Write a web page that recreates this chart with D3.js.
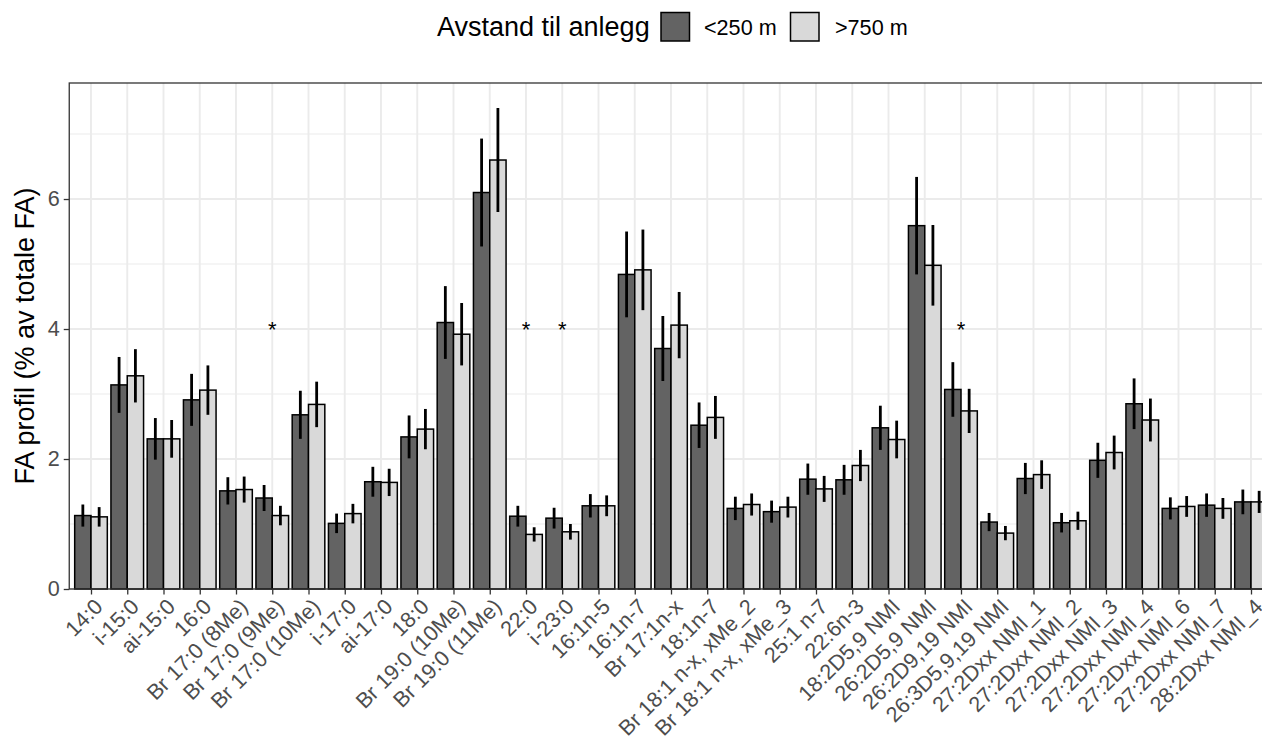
<!DOCTYPE html>
<html>
<head>
<meta charset="utf-8">
<script src="https://cdn.jsdelivr.net/npm/d3@7"></script>
<style>
  html, body { margin: 0; padding: 0; background: #ffffff; }
  svg { display: block; font-family: "Liberation Sans", Arial, sans-serif; }
</style>
</head>
<body>
<svg id="chart" width="1262" height="738"></svg>
<script>
// Fatty-acid profile by distance to facility: group means with error bars
const categories = [
  "14:0", "i-15:0", "ai-15:0", "16:0", "Br 17:0 (8Me)", "Br 17:0 (9Me)",
  "Br 17:0 (10Me)", "i-17:0", "ai-17:0", "18:0", "Br 19:0 (10Me)", "Br 19:0 (11Me)",
  "22:0", "i-23:0", "16:1n-5", "16:1n-7", "Br 17:1n-x", "18:1n-7",
  "Br 18:1 n-x, xMe_2", "Br 18:1 n-x, xMe_3", "25:1 n-7", "22:6n-3",
  "18:2D5,9 NMI", "26:2D5,9 NMI", "26:2D9,19 NMI", "26:3D5,9,19 NMI",
  "27:2Dxx NMI_1", "27:2Dxx NMI_2", "27:2Dxx NMI_3", "27:2Dxx NMI_4",
  "27:2Dxx NMI_6", "27:2Dxx NMI_7", "28:2Dxx NMI_4"
];

const groups = ["<250 m", ">750 m"];

// Mean share (% of total FA), distance < 250 m
const nearMean = [
  1.13, 3.14, 2.31, 2.91, 1.51, 1.40, 2.68, 1.01, 1.65, 2.34, 4.10, 6.10,
  1.12, 1.09, 1.28, 4.84, 3.70, 2.52, 1.24, 1.19, 1.69, 1.68,
  2.48, 5.59, 3.07, 1.03, 1.70, 1.02, 1.98, 2.85, 1.24, 1.29, 1.34
];
const nearErr = [
  0.17, 0.43, 0.32, 0.40, 0.21, 0.20, 0.37, 0.15, 0.23, 0.33, 0.56, 0.83,
  0.16, 0.16, 0.18, 0.66, 0.50, 0.35, 0.18, 0.17, 0.24, 0.23,
  0.34, 0.75, 0.42, 0.14, 0.24, 0.15, 0.27, 0.39, 0.17, 0.18, 0.19
];

// Mean share (% of total FA), distance > 750 m
const farMean = [
  1.11, 3.28, 2.31, 3.06, 1.53, 1.13, 2.84, 1.16, 1.64, 2.46, 3.92, 6.60,
  0.84, 0.88, 1.28, 4.91, 4.06, 2.64, 1.30, 1.26, 1.54, 1.90,
  2.30, 4.98, 2.74, 0.86, 1.76, 1.05, 2.10, 2.60, 1.27, 1.24, 1.34
];
const farErr = [
  0.15, 0.41, 0.29, 0.38, 0.20, 0.15, 0.35, 0.15, 0.21, 0.31, 0.48, 0.80,
  0.11, 0.12, 0.16, 0.62, 0.51, 0.33, 0.17, 0.16, 0.20, 0.24,
  0.29, 0.62, 0.34, 0.11, 0.22, 0.14, 0.26, 0.33, 0.16, 0.16, 0.17
];

// Categories with a significant difference between the two groups
const significant = ["Br 17:0 (9Me)", "22:0", "i-23:0", "26:2D9,19 NMI"];
const starLevel = 4;

const yTicks = [0, 2, 4, 6];
const yMinor = [1, 3, 5, 7];
const yMax = 7.785;

const fills = { "<250 m": "#636363", ">750 m": "#d9d9d9" };

const svg = d3.select("#chart");

const panel = { left: 69.25, right: 1272.75, top: 83, bottom: 589 };

const x = d3.scalePoint()
  .domain(categories)
  .range([panel.left, panel.right])
  .padding(0.6);

const step = x.step();

const xInner = d3.scaleBand()
  .domain(groups)
  .range([-0.45 * step, 0.45 * step])
  .paddingInner(0);

const y = d3.scaleLinear()
  .domain([0, yMax])
  .range([panel.bottom, panel.top]);

const rows = [];
categories.forEach((c, i) => {
  rows.push({ cat: c, group: groups[0], mean: nearMean[i], err: nearErr[i] });
  rows.push({ cat: c, group: groups[1], mean: farMean[i], err: farErr[i] });
});

// panel background and grid
const plot = svg.append("g");

plot.append("rect")
  .attr("x", panel.left).attr("y", panel.top)
  .attr("width", panel.right - panel.left)
  .attr("height", panel.bottom - panel.top)
  .attr("fill", "#ffffff");

plot.append("g").selectAll("line").data(yMinor).join("line")
  .attr("x1", panel.left).attr("x2", panel.right)
  .attr("y1", d => y(d)).attr("y2", d => y(d))
  .attr("stroke", "#ebebeb").attr("stroke-width", 1);

plot.append("g").selectAll("line").data(yTicks).join("line")
  .attr("x1", panel.left).attr("x2", panel.right)
  .attr("y1", d => y(d)).attr("y2", d => y(d))
  .attr("stroke", "#ebebeb").attr("stroke-width", 1.9);

plot.append("g").selectAll("line").data(categories).join("line")
  .attr("x1", d => x(d)).attr("x2", d => x(d))
  .attr("y1", panel.top).attr("y2", panel.bottom)
  .attr("stroke", "#ebebeb").attr("stroke-width", 1.9);

// bars
plot.append("g").selectAll("rect").data(rows).join("rect")
  .attr("x", d => x(d.cat) + xInner(d.group))
  .attr("width", xInner.bandwidth())
  .attr("y", d => y(d.mean))
  .attr("height", d => y(0) - y(d.mean))
  .attr("fill", d => fills[d.group])
  .attr("stroke", "#000000")
  .attr("stroke-width", 1.5);

// error bars
plot.append("g").selectAll("line").data(rows).join("line")
  .attr("x1", d => x(d.cat) + xInner(d.group) + xInner.bandwidth() / 2)
  .attr("x2", d => x(d.cat) + xInner(d.group) + xInner.bandwidth() / 2)
  .attr("y1", d => y(d.mean + d.err))
  .attr("y2", d => y(d.mean - d.err))
  .attr("stroke", "#000000")
  .attr("stroke-width", 2.8);

// significance markers
plot.append("g").selectAll("text").data(significant).join("text")
  .attr("x", d => x(d))
  .attr("y", y(starLevel))
  .attr("text-anchor", "middle")
  .attr("dominant-baseline", "central")
  .attr("font-size", 22)
  .attr("fill", "#000000")
  .text("*");

// panel border
plot.append("rect")
  .attr("x", panel.left).attr("y", panel.top)
  .attr("width", panel.right - panel.left)
  .attr("height", panel.bottom - panel.top)
  .attr("fill", "none")
  .attr("stroke", "#333333")
  .attr("stroke-width", 1.3);

// y axis
const yAxis = svg.append("g")
  .attr("transform", `translate(${panel.left},0)`)
  .call(d3.axisLeft(y).tickValues(yTicks).tickFormat(d3.format("d")).tickSize(5.5).tickPadding(4));
yAxis.select(".domain").remove();
yAxis.selectAll(".tick line").attr("stroke", "#333333").attr("stroke-width", 1.3);
yAxis.selectAll(".tick text")
  .attr("fill", "#4d4d4d")
  .attr("font-size", 21.6)
  .attr("font-family", "'Liberation Sans', Arial, sans-serif");

// x axis
const xAxis = svg.append("g")
  .attr("transform", `translate(0,${panel.bottom})`)
  .call(d3.axisBottom(x).tickSize(5.5).tickFormat(() => ""));
xAxis.select(".domain").remove();
xAxis.selectAll(".tick line").attr("stroke", "#333333").attr("stroke-width", 1.3);

svg.append("g").selectAll("text").data(categories).join("text")
  .attr("transform", d => `translate(${x(d) + 2},${panel.bottom + 8}) rotate(-45)`)
  .attr("text-anchor", "end")
  .attr("dy", "0.72em")
  .attr("font-size", 21.6)
  .attr("fill", "#4d4d4d")
  .text(d => d);

// y axis title
svg.append("text")
  .attr("transform", `translate(34,${(panel.top + panel.bottom) / 2}) rotate(-90)`)
  .attr("text-anchor", "middle")
  .attr("font-size", 27)
  .attr("fill", "#000000")
  .text("FA profil (% av totale FA)");

// legend
const legend = svg.append("g");
legend.append("text")
  .attr("x", 437).attr("y", 27)
  .attr("dominant-baseline", "central")
  .attr("font-size", 27)
  .attr("fill", "#000000")
  .text("Avstand til anlegg");

const legendItems = [
  { group: groups[0], keyX: 661, textX: 704 },
  { group: groups[1], keyX: 790.5, textX: 835 }
];
legend.selectAll("rect.key").data(legendItems).join("rect")
  .attr("class", "key")
  .attr("x", d => d.keyX).attr("y", 12.5)
  .attr("width", 28.5).attr("height", 28.5)
  .attr("fill", d => fills[d.group])
  .attr("stroke", "#000000")
  .attr("stroke-width", 1.5);
legend.selectAll("text.lab").data(legendItems).join("text")
  .attr("class", "lab")
  .attr("x", d => d.textX).attr("y", 27)
  .attr("dominant-baseline", "central")
  .attr("font-size", 21.6)
  .attr("fill", "#000000")
  .text(d => d.group);
</script>
</body>
</html>
